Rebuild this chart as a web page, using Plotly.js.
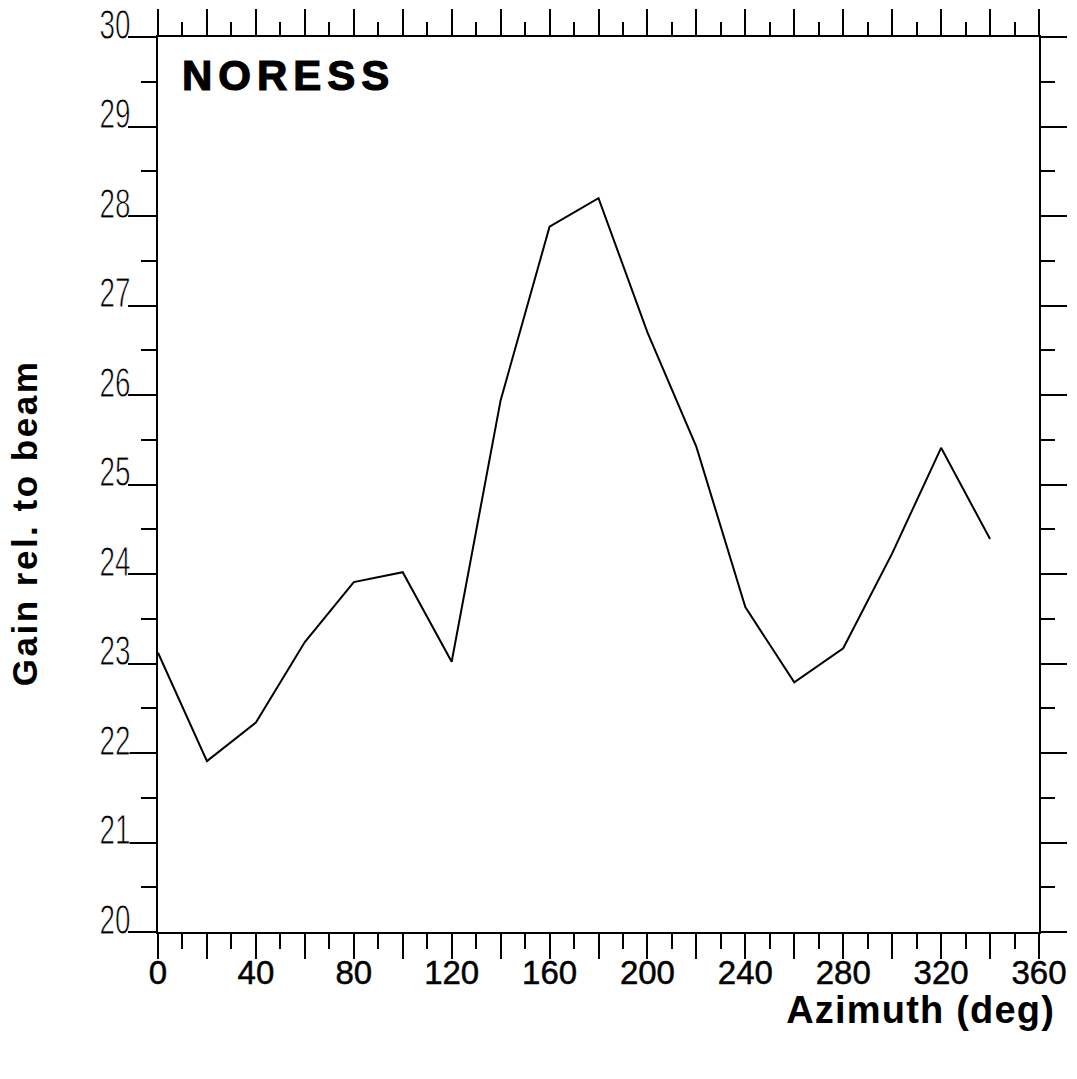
<!DOCTYPE html>
<html>
<head>
<meta charset="utf-8">
<script src="https://cdn.plot.ly/plotly-3.0.1.min.js"></script>
<style>
html,body{margin:0;padding:0;background:#fff;}
#chart{width:1077px;height:1079px;}
</style>
</head>
<body>
<div id="chart"></div>
<script>
// Data
const azimuth = [0, 20, 40, 60, 80, 100, 120, 140, 160, 180, 200, 220, 240, 260, 280, 300, 320, 340];
const gain = [23.12, 21.91, 22.34, 23.24, 23.91, 24.02, 23.02, 25.94, 27.88, 28.20, 26.70, 25.42, 23.63, 22.79, 23.17, 24.23, 25.41, 24.39];
const xTickVals = [0, 20, 40, 60, 80, 100, 120, 140, 160, 180, 200, 220, 240, 260, 280, 300, 320, 340, 360];
const xTickText = ['0', '', '40', '', '80', '', '120', '', '160', '', '200', '', '240', '', '280', '', '320', '', '360'];
const yTickVals = [20, 21, 22, 23, 24, 25, 26, 27, 28, 29, 30];
const yTickText = ['20', '21', '22', '23', '24', '25', '26', '27', '28', '29', '30'];
const panelLabel = 'NORESS';
const xTitle = 'Azimuth (deg)';
const yTitle = 'Gain rel. to beam';

const traces = [
  {
    x: azimuth, y: gain, type: 'scatter', mode: 'lines',
    line: {color: '#000', width: 2}, hoverinfo: 'skip', showlegend: false
  },
  {
    x: azimuth, y: gain, xaxis: 'x2', yaxis: 'y2', type: 'scatter', mode: 'lines',
    line: {color: 'rgba(0,0,0,0)', width: 0}, hoverinfo: 'skip', showlegend: false
  }
];

const axisCommon = {
  showgrid: false, zeroline: false, showline: true,
  linecolor: '#000', linewidth: 2, tickcolor: '#000', tickwidth: 2
};

const layout = {
  width: 1077, height: 1079,
  margin: {l: 158, r: 38, t: 37, b: 147},
  paper_bgcolor: '#fff', plot_bgcolor: '#fff',
  showlegend: false,
  xaxis: Object.assign({}, axisCommon, {
    range: [0, 360], ticks: 'outside', ticklen: 25,
    tickmode: 'array', tickvals: xTickVals, ticktext: xTickText,
    ticklabelstandoff: -15, ticklabeloverflow: 'allow',
    tickfont: {family: 'Liberation Sans, Arial, sans-serif', size: 33, color: '#000'},
    minor: {tickmode: 'linear', tick0: 0, dtick: 10, ticks: 'outside', ticklen: 15, tickwidth: 2, tickcolor: '#000', showgrid: false}
  }),
  xaxis2: Object.assign({}, axisCommon, {
    range: [0, 360], overlaying: 'x', side: 'top', anchor: 'y2',
    ticks: 'outside', ticklen: 26, tickmode: 'linear', tick0: 0, dtick: 20,
    showticklabels: false,
    minor: {tickmode: 'linear', tick0: 0, dtick: 10, ticks: 'outside', ticklen: 13, tickwidth: 2, tickcolor: '#000', showgrid: false}
  }),
  yaxis: Object.assign({}, axisCommon, {
    range: [20, 30], ticks: 'outside', ticklen: 28,
    tickmode: 'array', tickvals: yTickVals, ticktext: yTickText,
    ticklabelstandoff: -11, ticklabelshift: -13, ticklabeloverflow: 'allow',
    tickfont: {family: 'Liberation Sans Narrow, sans-serif', size: 42, color: '#000'},
    minor: {tickmode: 'linear', tick0: 20, dtick: 0.5, ticks: 'outside', ticklen: 15, tickwidth: 2, tickcolor: '#000', showgrid: false}
  }),
  yaxis2: Object.assign({}, axisCommon, {
    range: [20, 30], overlaying: 'y', side: 'right', anchor: 'x2',
    ticks: 'outside', ticklen: 26, tickmode: 'linear', tick0: 20, dtick: 1,
    showticklabels: false,
    minor: {tickmode: 'linear', tick0: 20, dtick: 0.5, ticks: 'outside', ticklen: 14, tickwidth: 2, tickcolor: '#000', showgrid: false}
  }),
  annotations: [
    {
      text: panelLabel, xref: 'paper', yref: 'paper', x: 0.045, y: 0.985,
      xanchor: 'left', yanchor: 'top', showarrow: false, captureevents: false,
      font: {family: 'Liberation Sans, Arial, sans-serif', size: 42, color: '#000', weight: 'bold'}
    },
    {
      text: '<b>' + xTitle + '</b>', xref: 'paper', yref: 'paper', x: 0.866, y: -0.087,
      xanchor: 'center', yanchor: 'middle', showarrow: false,
      font: {family: 'Liberation Sans, Arial, sans-serif', size: 38, color: '#000'}
    },
    {
      text: '<b>' + yTitle + '</b>', xref: 'paper', yref: 'paper', x: -0.151, y: 0.457,
      xanchor: 'center', yanchor: 'middle', textangle: -90, showarrow: false,
      font: {family: 'Liberation Sans, Arial, sans-serif', size: 35, color: '#000'}
    }
  ]
};

Plotly.newPlot('chart', traces, layout, {staticPlot: true, displayModeBar: false}).then(function () {
  const ann = document.querySelectorAll('.annotation-text');
  if (ann[0]) {
    ann[0].style.letterSpacing = '6px';
    ann[0].style.stroke = '#000';
    ann[0].style.strokeWidth = '1.2px';
  }
  if (ann[1]) ann[1].style.letterSpacing = '1.2px';
  if (ann[2]) ann[2].style.letterSpacing = '2.5px';
  // condensed, thin y tick labels as in the reference
  document.querySelectorAll('.ytick text').forEach(function (t) {
    t.setAttribute('textLength', '31');
    t.setAttribute('lengthAdjust', 'spacingAndGlyphs');
    t.style.stroke = '#fff';
    t.style.strokeWidth = '0.9px';
  });
  document.querySelectorAll('.xtick text').forEach(function (t) {
    t.style.stroke = '#000';
    t.style.strokeWidth = '0.5px';
  });
});
</script>
</body>
</html>
